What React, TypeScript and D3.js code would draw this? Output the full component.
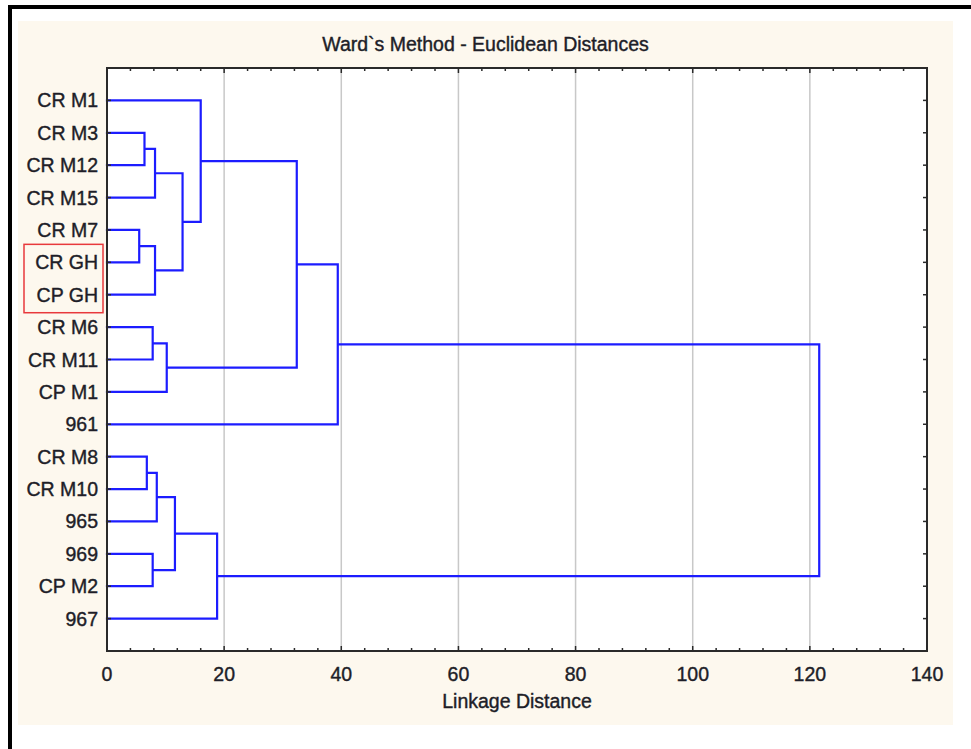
import React, { useRef, useEffect } from 'react';
import * as d3 from 'd3';

// leaf order as shown top to bottom
const leaves = ['CR M1', 'CR M3', 'CR M12', 'CR M15', 'CR M7', 'CR GH', 'CP GH', 'CR M6', 'CR M11', 'CP M1', '961', 'CR M8', 'CR M10', '965', '969', 'CP M2', '967'];

// merge steps: [left, right, distance]; ids >= leaves.length are earlier merges
const mergeLeft = [1, 4, 17, 18, 19, 0, 7, 23, 22, 25, 11, 27, 14, 28, 30, 26];
const mergeRight = [2, 5, 3, 6, 20, 21, 8, 9, 24, 10, 12, 13, 15, 29, 16, 31];
const mergeDist = [6.4, 5.5, 8.2, 8.2, 12.9, 16.0, 7.8, 10.2, 32.4, 39.4, 6.8, 8.5, 7.8, 11.6, 18.8, 121.6];

const xTicks = [0, 20, 40, 60, 80, 100, 120, 140];
const gridTicks = [20, 40, 60, 80, 100, 120];
const highlighted = ['CR GH', 'CP GH'];

const Dendrogram = ({ width, height }) => {
  const svgRef = useRef();

  useEffect(() => {
    const svg = d3.select(svgRef.current);
    svg.selectAll('*').remove();

    const font = "'Liberation Sans', Arial, sans-serif";
    const fs = 19.5;
    const textCol = '#1e1e28';
    const left = 107, right = 927, top = 68, bottom = 651;

    const x = d3.scaleLinear().domain([0, 140]).range([left, right]);
    const y = d3.scalePoint().domain(leaves).range([top, bottom]).padding(1);

    // outer frame + beige panel
    svg.append('rect').attr('width', width).attr('height', height).attr('fill', '#fff');
    svg.append('rect').attr('x', 18).attr('y', 21).attr('width', 935).attr('height', 704).attr('fill', '#fdf8ee');
    svg.append('line').attr('x1', 8).attr('x2', width).attr('y1', 7).attr('y2', 7).attr('stroke', '#000').attr('stroke-width', 4);
    svg.append('line').attr('x1', 10).attr('x2', 10).attr('y1', 5).attr('y2', height).attr('stroke', '#000').attr('stroke-width', 4);

    svg.append('rect').attr('x', left).attr('y', top).attr('width', right - left).attr('height', bottom - top).attr('fill', '#fff');

    // grid
    svg.selectAll('.grid').data(gridTicks).enter().append('line')
      .attr('x1', d => x(d)).attr('x2', d => x(d))
      .attr('y1', top).attr('y2', bottom)
      .attr('stroke', '#c8c8c8').attr('stroke-width', 1.5);

    // dendrogram
    const n = leaves.length;
    const pos = leaves.map((l, i) => ({ y: y(l), d: 0 }));
    const segs = [];
    mergeLeft.forEach((a, i) => {
      const b = mergeRight[i];
      const d = mergeDist[i];
      const pa = pos[a], pb = pos[b];
      segs.push([x(pa.d), pa.y, x(d), pa.y]);
      segs.push([x(pb.d), pb.y, x(d), pb.y]);
      segs.push([x(d), pa.y, x(d), pb.y]);
      pos[n + i] = { y: (pa.y + pb.y) / 2, d };
    });
    const path = d3.path();
    segs.forEach(s => { path.moveTo(s[0], s[1]); path.lineTo(s[2], s[3]); });
    svg.append('path').attr('d', path.toString())
      .attr('fill', 'none').attr('stroke', '#1c1cff').attr('stroke-width', 2.2).attr('stroke-linecap', 'square');

    // axis frame
    const axisColor = '#2a2a2a';
    svg.append('rect').attr('x', left).attr('y', top).attr('width', right - left).attr('height', bottom - top)
      .attr('fill', 'none').attr('stroke', axisColor).attr('stroke-width', 2);

    const minor = d3.range(0, 141, 4).filter(v => v % 20 !== 0);
    const ticks = svg.append('g').attr('stroke', axisColor).attr('stroke-width', 1.5);
    [top, bottom].forEach(yy => {
      const dir = yy === top ? 1 : -1;
      minor.forEach(v => ticks.append('line').attr('x1', x(v)).attr('x2', x(v)).attr('y1', yy).attr('y2', yy + dir * 3));
      xTicks.forEach(v => ticks.append('line').attr('x1', x(v)).attr('x2', x(v)).attr('y1', yy).attr('y2', yy + dir * 5));
    });
    [left, right].forEach(xx => {
      const dir = xx === left ? 1 : -1;
      leaves.forEach(l => ticks.append('line').attr('x1', xx).attr('x2', xx + dir * 4).attr('y1', y(l)).attr('y2', y(l)));
    });

    const txt = sel => sel.attr('font-family', font).attr('font-size', fs)
      .attr('fill', textCol).attr('stroke', textCol).attr('stroke-width', 0.4);

    // labels
    svg.selectAll('.leaf').data(leaves).enter().append('text')
      .attr('x', 98).attr('y', d => y(d)).attr('dy', '0.36em')
      .attr('text-anchor', 'end').call(txt).text(d => d);

    svg.selectAll('.xt').data(xTicks).enter().append('text')
      .attr('x', d => x(d)).attr('y', 681)
      .attr('text-anchor', 'middle').call(txt).text(d => d);

    svg.append('text').attr('x', 485.5).attr('y', 51).attr('text-anchor', 'middle')
      .call(txt).text('Ward`s Method - Euclidean Distances');
    svg.append('text').attr('x', (left + right) / 2).attr('y', 708).attr('text-anchor', 'middle')
      .call(txt).text('Linkage Distance');

    // red box round the GH pair
    const hy = highlighted.map(l => y(l));
    svg.append('rect').attr('x', 24).attr('y', d3.min(hy) - 18).attr('width', 79).attr('height', d3.max(hy) - d3.min(hy) + 36)
      .attr('fill', 'none').attr('stroke', '#e8393c').attr('stroke-width', 1.5);
  }, [width, height]);

  return <svg ref={svgRef} width={width} height={height} style={{ position: 'absolute', left: 0, top: 0 }}></svg>;
};

export default function App() {
  return <Dendrogram width={971} height={749} />;
}
